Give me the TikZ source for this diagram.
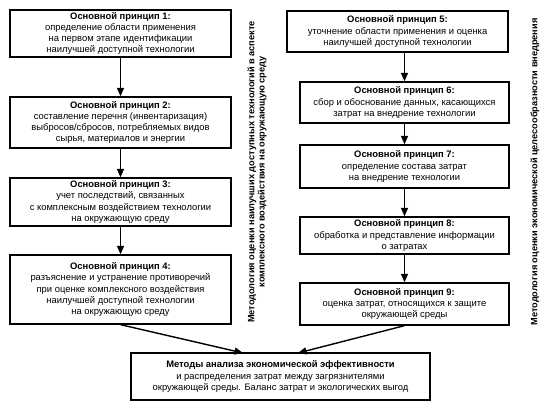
\documentclass[tikz,border=0pt]{standalone}
\usepackage{fontspec}
\setmainfont{Liberation Sans}
\usetikzlibrary{arrows.meta}
\begin{document}
\begin{tikzpicture}[x=1pt,y=-1pt,
  box/.style={draw=black,line width=1.3pt,align=center,inner sep=0pt,
    font=\fontsize{9.4}{11.3}\selectfont},
  arr/.style={line width=1.4pt,-{Triangle[length=8.5pt,width=7pt]}},
  side/.style={rotate=90,align=center,font=\bfseries\fontsize{9.2}{10.4}\selectfont}]
\useasboundingbox (0,0) rectangle (556,403);
\node[box,minimum width=221pt,minimum height=47pt] (b1) at (120.5,33.5)
  {\textbf{Основной принцип 1:}\\определение области применения\\на первом этапе идентификации\\наилучшей доступной технологии};
\node[box,minimum width=221pt,minimum height=51pt] (b2) at (120.5,122.5)
  {\textbf{Основной принцип 2:}\\составление перечня (инвентаризация)\\выбросов/сбросов, потребляемых видов\\сырья, материалов и энергии};
\node[box,minimum width=221pt,minimum height=48pt] (b3) at (120.5,202)
  {\textbf{Основной принцип 3:}\\учет последствий, связанных\\с комплексным воздействием технологии\\на окружающую среду};
\node[box,minimum width=221pt,minimum height=69pt] (b4) at (120.5,289.5)
  {\textbf{Основной принцип 4:}\\разъяснение и устранение противоречий\\при оценке комплексного воздействия\\наилучшей доступной технологии\\на окружающую среду};
\node[box,minimum width=221pt,minimum height=41pt] (b5) at (397.5,31.5)
  {\textbf{Основной принцип 5:}\\уточнение области применения и оценка\\наилучшей доступной технологии};
\node[box,minimum width=209pt,minimum height=41pt] (b6) at (404.5,102.5)
  {\textbf{Основной принцип 6:}\\сбор и обоснование данных, касающихся\\затрат на внедрение технологии};
\node[box,minimum width=209pt,minimum height=43pt] (b7) at (404.5,166.5)
  {\textbf{Основной принцип 7:}\\определение состава затрат\\на внедрение технологии};
\node[box,minimum width=209pt,minimum height=37pt] (b8) at (404.5,235.5)
  {\textbf{Основной принцип 8:}\\обработка и представление информации\\о затратах};
\node[box,minimum width=209pt,minimum height=42pt] (b9) at (404.5,304)
  {\textbf{Основной принцип 9:}\\оценка затрат, относящихся к защите\\окружающей среды};
\node[box,minimum width=299pt,minimum height=47pt] (b10) at (280.5,376.5)
  {\textbf{Методы анализа экономической эффективности}\\и распределения затрат между загрязнителями\\окружающей среды. Баланс затрат и экологических выгод};
\node[side] (s1) at (257,172)
  {Методология оценки наилучших доступных технологий в аспекте\\комплексного воздействия на окружающую среду};
\node[side] (s2) at (535,172)
  {Методология оценки экономической целесообразности внедрения};
\coordinate (e1) at (243,353);
\coordinate (e2) at (298,353);
\draw[arr] (b1) -- (b2);
\draw[arr] (b2) -- (b3);
\draw[arr] (b3) -- (b4);
\draw[arr] (b5.south -| b6.north) -- (b6.north);
\draw[arr] (b6) -- (b7);
\draw[arr] (b7) -- (b8);
\draw[arr] (b8) -- (b9);
\draw[arr] (b4.south) -- (e1);
\draw[arr] (b9.south) -- (e2);
\end{tikzpicture}
\end{document}
